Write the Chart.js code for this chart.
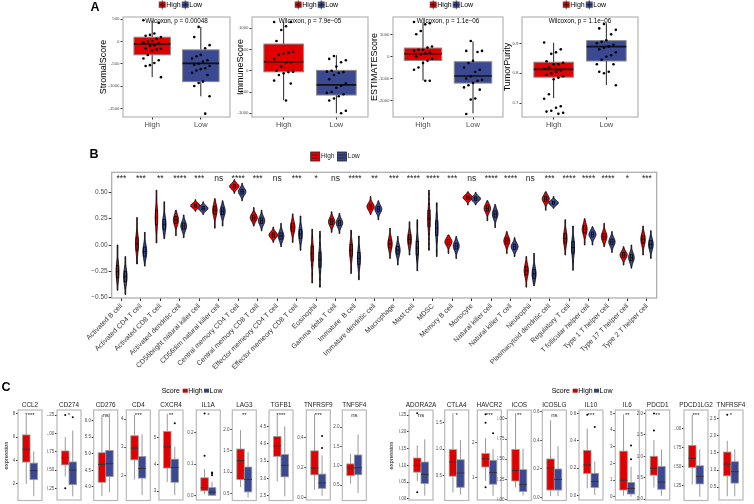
<!DOCTYPE html>
<html><head><meta charset="utf-8">
<script src="https://cdn.jsdelivr.net/npm/chart.js@4.4.1/dist/chart.umd.min.js"></script>
<style>
html,body{margin:0;padding:0;background:#fff;}
body{position:relative;width:754px;height:504px;overflow:hidden;}
canvas{position:absolute;left:0;top:0;}
</style></head><body>
<script>
// ======================= DATA =======================
const groups = ['High', 'Low'];

// ---- Panel A: score boxplots ----
const scoreNamesA = ['StromalScore', 'ImmuneScore', 'ESTIMATEScore', 'TumorPurity'];
const pLabelsA = ['Wilcoxon, p = 0.00048', 'Wilcoxon, p = 7.9e\u221205', 'Wilcoxon, p = 1.1e\u221206', 'Wilcoxon, p = 1.1e\u221206'];
const yTicksA = [
  ['-1500', '-1000', '-500', '0', '500'],
  ['-1000', '-500', '0', '500', '1000'],
  ['-2000', '-1000', '0', '1000'],
  ['0.7', '0.8', '0.9']
];
const yRangeA = [[-1695, 552], [-1087, 1266], [-2737, 1783], [0.654, 0.988]];
// [min, q1, median, q3, max]
const boxHighA = [[-800, -298, -52, 98, 470], [-690, -24, 212, 630, 1155], [-1086, -181, 122, 380, 1540], [0.717, 0.787, 0.813, 0.837, 0.902]];
const boxLowA = [[-1230, -900, -490, -186, 330], [-1000, -570, -330, 10, 370], [-2570, -1204, -887, -240, 680], [0.761, 0.841, 0.889, 0.909, 0.967]];
const ptsHighA = [
  [480, 420, 180, 150, 130, 100, 60, 20, 0, -20, -40, -80, -100, -150, -160, -180, -200, -300, -380, -420, -480, -530, -550, -800],
  [1150, 1150, 1050, 960, 700, 450, 430, 400, 380, 280, 200, 200, 100, 0, -20, -30, -60, -100, -230, -300, -700],
  [1560, 1500, 1450, 1150, 1000, 450, 400, 300, 300, 250, 200, 150, 100, 0, -100, -200, -300, -500, -600, -1100, -1100],
  [0.903, 0.88, 0.87, 0.865, 0.84, 0.835, 0.83, 0.83, 0.82, 0.815, 0.81, 0.805, 0.80, 0.795, 0.79, 0.785, 0.78, 0.73, 0.715, 0.69, 0.685, 0.675, 0.672, 0.668, 0.665]
];
const ptsLowA = [
  [330, 100, -80, -150, -300, -330, -380, -420, -450, -500, -520, -550, -600, -620, -650, -700, -750, -900, -930, -1000, -1230, -1620],
  [350, 280, 250, 200, 100, 0, -20, -30, -50, -100, -200, -300, -350, -400, -500, -520, -550, -600, -650, -700, -940, -1000],
  [700, 250, 250, 200, -200, -300, -500, -600, -700, -900, -1000, -1050, -1100, -1200, -1300, -1400, -1500, -1900, -1950, -2600],
  [0.965, 0.95, 0.945, 0.93, 0.91, 0.905, 0.9, 0.895, 0.89, 0.885, 0.88, 0.87, 0.86, 0.855, 0.845, 0.83, 0.83, 0.805, 0.80, 0.805, 0.76]
];

// ---- Panel B: immune cell violins ----
const cellTypes = ['Activated B cell', 'Activated CD4 T cell', 'Activated CD8 T cell', 'Activated dendritic cell',
  'CD56bright natural killer cell', 'CD56dim natural killer cell', 'Central memory CD4 T cell', 'Central memory CD8 T cell',
  'Effector memeory CD4 T cell', 'Effector memeory CD8 T cell', 'Eosinophil', 'Gamma delta T cell', 'Immature  B cell',
  'Immature dendritic cell', 'Macrophage', 'Mast cell', 'MDSC', 'Memory B cell', 'Monocyte', 'Natural killer cell',
  'Natural killer T cell', 'Neutrophil', 'Plasmacytoid dendritic cell', 'Regulatory T cell', 'T follicular helper cell',
  'Type 1 T helper cell', 'Type 17 T helper cell', 'Type 2 T helper cell'];
const sigB = ['***', '***', '**', '****', '***', 'ns', '****', '***', 'ns', '***', '*', 'ns', '****', '**', '***',
  '****', '****', '***', 'ns', '****', '****', 'ns', '***', '****', '****', '****', '*', '***'];
const yTicksB = ['\u22120.50', '\u22120.25', '0.00', '0.25', '0.50'];
// [lowest, median, highest]
const violinHighB = [[-0.43, -0.253, 0.0], [-0.18, 0.01, 0.26], [0.02, 0.26, 0.52], [0.09, 0.237, 0.33], [0.32, 0.373, 0.43],
  [0.16, 0.33, 0.44], [0.49, 0.557, 0.62], [0.18, 0.26, 0.355], [0.025, 0.095, 0.17], [0.025, 0.168, 0.295],
  [-0.36, -0.08, 0.15], [0.12, 0.22, 0.315], [-0.27, -0.05, 0.14], [0.29, 0.364, 0.46], [-0.127, 0.01, 0.16],
  [-0.095, 0.054, 0.22], [-0.05, 0.25, 0.52], [-0.08, 0.03, 0.095], [0.38, 0.45, 0.505], [0.23, 0.348, 0.42],
  [-0.08, 0.038, 0.127], [-0.40, -0.244, -0.11], [0.33, 0.437, 0.505], [-0.095, 0.063, 0.24], [0.0, 0.149, 0.25],
  [-0.016, 0.08, 0.205], [-0.19, -0.095, -0.016], [-0.095, 0.054, 0.18]];
const violinLowB = [[-0.47, -0.30, -0.11], [-0.20, -0.063, 0.12], [0.06, 0.196, 0.41], [0.07, 0.18, 0.285], [0.29, 0.348, 0.41],
  [0.18, 0.32, 0.42], [0.42, 0.506, 0.585], [0.135, 0.23, 0.33], [-0.015, 0.085, 0.205], [-0.05, 0.105, 0.275],
  [-0.40, -0.14, 0.13], [0.11, 0.21, 0.30], [-0.33, -0.127, 0.085], [0.24, 0.34, 0.42], [-0.19, -0.05, 0.08],
  [-0.245, -0.03, 0.24], [-0.11, 0.16, 0.40], [-0.127, -0.01, 0.08], [0.38, 0.44, 0.50], [0.165, 0.294, 0.385],
  [-0.11, -0.016, 0.07], [-0.386, -0.275, -0.08], [0.348, 0.40, 0.46], [-0.24, -0.022, 0.18], [0.0, 0.10, 0.174],
  [-0.07, 0.03, 0.127], [-0.22, -0.12, 0.0], [-0.127, 0.006, 0.136]];

// ---- Panel C: gene expression boxplots ----
const genesLeft = ['CCL2', 'CD274', 'CD276', 'CD4', 'CXCR4', 'IL1A', 'LAG3', 'TGFB1', 'TNFRSF9', 'TNFSF4'];
const sigLeft = ['****', '*', 'ns', '***', '**', '*', '**', '****', '***', 'ns'];
const ticksLeft = [['2', '4', '6', '8'], ['0.25', '0.50', '0.75', '1.00', '1.25'], ['4.0', '4.5', '5.0', '5.5', '6.0'], ['2', '3', '4'],
  ['3', '4', '5'], ['0.0', '0.1', '0.2'], ['0.5', '1.0', '1.5', '2.0'], ['2.5', '3.0', '3.5', '4.0', '4.5'], ['0.0', '0.2', '0.4'], ['0.5', '1.0', '1.5', '2.0']];
const rangeLeft = [[0.57, 8.34], [0.09, 1.32], [3.59, 6.32], [1.10, 4.33], [2.67, 6.02], [-0.013, 0.271], [0.34, 2.45], [2.37, 4.97], [-0.018, 0.583], [0.107, 2.44]];
const highLeft = [[2.0, 3.87, 4.98, 6.2, 7.9], [0.41, 0.57, 0.67, 0.76, 0.95], [3.72, 4.14, 4.68, 5.03, 6.17], [1.85, 2.55, 2.97, 3.41, 4.15],
  [3.34, 3.86, 4.65, 5.22, 5.88], [0.005, 0.016, 0.026, 0.057, 0.085], [0.65, 0.83, 1.27, 1.54, 1.98], [2.92, 3.64, 3.94, 4.21, 4.83],
  [0.05, 0.15, 0.195, 0.31, 0.556], [0.54, 0.75, 0.95, 1.05, 1.31]];
const lowLeft = [[0.93, 2.36, 3.13, 3.78, 4.78], [0.14, 0.30, 0.50, 0.61, 1.04], [3.84, 4.31, 4.70, 5.10, 6.22], [1.29, 1.90, 2.24, 2.67, 3.47],
  [2.85, 3.33, 3.88, 4.19, 4.65], [0.0, 0.002, 0.012, 0.026, 0.045], [0.41, 0.54, 0.83, 1.12, 1.47], [2.49, 3.05, 3.38, 3.69, 4.5],
  [0.01, 0.06, 0.096, 0.155, 0.28], [0.30, 0.77, 0.95, 1.28, 1.81]];
const outHighLeft = [[], [1.25, 0.25], [], [], [], [0.26, 0.127], [], [], [], []];
const outLowLeft = [[], [1.22], [], [], [5.53], [0.065, 0.07, 0.074], [], [], [0.41, 0.33], []];

const genesRight = ['ADORA2A', 'CTLA4', 'HAVCR2', 'ICOS', 'ICOSLG', 'IL10', 'IL6', 'PDCD1', 'PDCD1LG2', 'TNFRSF4'];
const sigRight = ['ns', '*', '***', '**', 'ns', '***', '**', '**', '***', '*'];
const ticksRight = [['0.00', '0.05', '0.10', '0.15', '0.20', '0.25'], ['0.5', '1.0', '1.5'], ['1', '2'], ['0.00', '0.25', '0.50', '0.75', '1.00'],
  ['0.0', '0.2', '0.4', '0.6'], ['0.0', '0.2', '0.4', '0.6'], ['0', '1', '2', '3', '4', '5'], ['0.0', '0.5', '1.0', '1.5', '2.0'],
  ['0.25', '0.50', '0.75', '1.00'], ['0.5', '1.0', '1.5', '2.0', '2.5']];
const rangeRight = [[-0.003, 0.265], [0.03, 1.74], [0.36, 2.92], [-0.012, 1.11], [-0.02, 0.612], [-0.031, 0.624], [-0.2, 5.2], [-0.02, 2.08], [0.05, 1.25], [0.13, 2.74]];
const highRight = [[0.053, 0.08, 0.10, 0.122, 0.16], [0.18, 0.49, 0.76, 0.99, 1.68], [0.90, 1.30, 1.53, 1.68, 2.12], [0.15, 0.23, 0.36, 0.62, 1.07],
  [0.01, 0.053, 0.208, 0.27, 0.54], [0.053, 0.163, 0.224, 0.33, 0.49], [0.06, 0.40, 0.99, 2.73, 4.94], [0.27, 0.56, 0.72, 1.0, 1.38],
  [0.26, 0.49, 0.61, 0.78, 1.19], [0.24, 0.83, 1.17, 1.52, 1.85]];
const lowRight = [[0.01, 0.046, 0.073, 0.11, 0.178], [0.14, 0.28, 0.55, 0.80, 1.17], [0.48, 0.81, 1.14, 1.49, 1.81], [0.05, 0.10, 0.185, 0.37, 0.63],
  [0.01, 0.053, 0.127, 0.20, 0.36], [0.005, 0.06, 0.103, 0.163, 0.25], [0.0, 0.16, 0.49, 0.85, 1.8], [0.08, 0.23, 0.40, 0.76, 1.16],
  [0.10, 0.27, 0.37, 0.51, 0.73], [0.24, 0.62, 0.95, 1.24, 1.6]];
const outHighRight = [[0.255, 0.02], [], [2.8, 2.56, 0.72], [], [], [0.59], [], [2.0, 1.6], [], [2.6]];
const outLowRight = [[], [], [2.26], [], [], [0.50], [3.07, 2.25], [], [], []];

// ======================= RENDERING =======================
const W = 754, H = 504;
const FONT = '"Liberation Sans", Arial, Helvetica, sans-serif';
const RED = '#E00000', BLUE = '#3B4992';
Chart.defaults.font.family = FONT;

function newCtx() {
  const c = document.createElement('canvas');
  c.width = W; c.height = H;
  c.style.width = W + 'px'; c.style.height = H + 'px';
  document.body.appendChild(c);
  return c.getContext('2d');
}
function txt(ctx, s, x, y, o) {
  o = o || {};
  ctx.save();
  ctx.font = (o.bold ? 'bold ' : '') + (o.size || 8) + 'px ' + FONT;
  ctx.fillStyle = o.color || '#000';
  ctx.textAlign = o.align || 'center';
  ctx.textBaseline = o.base || 'middle';
  ctx.translate(x, y);
  if (o.rot) ctx.rotate(o.rot);
  ctx.fillText(s, 0, 0);
  ctx.restore();
}
const num = s => parseFloat(String(s).replace('\u2212', '-'));

function makeChart(cfg) {
  const ctx = newCtx();
  const [l, t, r, b] = cfg.rect;
  const yVals = cfg.yTicks.map(num);
  const xVals = cfg.xTickVals || [];
  const xH = cfg.xH || 0;
  return new Chart(ctx, {
    type: 'scatter',
    data: { datasets: cfg.datasets || [] },
    options: {
      responsive: false, animation: false, events: [], devicePixelRatio: 1,
      layout: { padding: { left: l - cfg.yW, top: t, right: W - r, bottom: H - b - xH } },
      plugins: { legend: { display: false }, tooltip: { enabled: false } },
      scales: {
        x: {
          type: 'linear', min: cfg.xMin, max: cfg.xMax, display: xH > 0,
          afterFit: s => { s.height = xH; },
          afterBuildTicks: s => { s.ticks = xVals.map(v => ({ value: v })); },
          ticks: {
            autoSkip: false, maxRotation: cfg.xRot || 0, minRotation: cfg.xRot || 0,
            padding: cfg.xPad == null ? 1 : cfg.xPad,
            font: { size: cfg.xFont || 7.5, family: FONT }, color: cfg.xColor || '#4d4d4d',
            callback: (v, i) => (cfg.xLabels || [])[i] || ''
          },
          grid: { drawOnChartArea: false, drawTicks: true, tickLength: cfg.tickLen || 3, color: '#333', lineWidth: 1 },
          border: { display: false }
        },
        y: {
          type: 'linear', min: cfg.yMin, max: cfg.yMax,
          afterFit: s => { s.width = cfg.yW; },
          afterBuildTicks: s => { s.ticks = yVals.map(v => ({ value: v })); },
          ticks: {
            autoSkip: false, padding: cfg.yPad == null ? 1 : cfg.yPad,
            font: { size: cfg.yFont || 5, family: FONT }, color: cfg.yColor || '#4d4d4d',
            callback: (v, i) => cfg.yTicks[i]
          },
          grid: { drawOnChartArea: false, drawTicks: true, tickLength: cfg.tickLen || 3, color: '#333', lineWidth: 1 },
          border: { display: false }
        }
      }
    },
    plugins: [{
      id: 'custom',
      beforeDatasetsDraw(ch) {
        if (cfg.before) { const c = ch.ctx; c.save(); cfg.before(c, ch.scales.x, ch.scales.y, ch.chartArea); c.restore(); }
      },
      afterDraw(ch) {
        const c = ch.ctx, a = ch.chartArea;
        c.save();
        c.strokeStyle = cfg.borderColor || '#b3b3b3';
        c.lineWidth = cfg.borderW || 1.2;
        c.strokeRect(a.left, a.top, a.right - a.left, a.bottom - a.top);
        c.restore();
        if (cfg.extra) { c.save(); cfg.extra(c, ch.scales.x, ch.scales.y, a); c.restore(); }
      }
    }]
  });
}

function drawBox(c, xs, ys, xc, half, st, o) {
  const [mn, q1, md, q3, mx] = st;
  const X = v => xs.getPixelForValue(v), Y = v => ys.getPixelForValue(v);
  const xm = X(xc), x0 = X(xc - half), x1 = X(xc + half);
  c.strokeStyle = o.whisker; c.lineWidth = o.whiskerW || 1;
  c.beginPath();
  c.moveTo(xm, Y(mx)); c.lineTo(xm, Y(q3));
  c.moveTo(xm, Y(q1)); c.lineTo(xm, Y(mn));
  c.stroke();
  c.fillStyle = o.fill;
  c.fillRect(x0, Y(q3), x1 - x0, Y(q1) - Y(q3));
  c.strokeStyle = o.edge; c.lineWidth = o.edgeW || 1;
  c.strokeRect(x0, Y(q3), x1 - x0, Y(q1) - Y(q3));
  c.strokeStyle = o.median; c.lineWidth = o.medianW || 1.5;
  c.beginPath(); c.moveTo(x0, Y(md)); c.lineTo(x1, Y(md)); c.stroke();
}

// ----- Panel A -----
const rectsA = [[123, 17, 230, 117], [252, 17, 368, 117], [393, 17, 503, 117], [522, 17, 638, 117]];
const yTitleXA = [103.5, 240.5, 374.5, 507.5];
const legendXA = [159, 295, 430, 563];
const jit = i => (((i * 7) % 9) - 4) * 0.045;

scoreNamesA.forEach((name, k) => {
  const rect = rectsA[k];
  makeChart({
    rect, yW: 20, xH: 14, xMin: 0.4, xMax: 2.6, xTickVals: [1, 2], xLabels: groups, xFont: 7.5, xPad: 1,
    yMin: yRangeA[k][0], yMax: yRangeA[k][1], yTicks: yTicksA[k], yFont: 4.3, tickLen: 2.5,
    datasets: [
      { data: ptsHighA[k].map((v, i) => ({ x: 1 + jit(i), y: v })), pointRadius: 1.3, backgroundColor: '#000', borderWidth: 0 },
      { data: ptsLowA[k].map((v, i) => ({ x: 2 + jit(i + 3), y: v })), pointRadius: 1.3, backgroundColor: '#000', borderWidth: 0 }
    ],
    before: (c, xs, ys) => {
      drawBox(c, xs, ys, 1, 0.375, boxHighA[k], { fill: RED, edge: '#8a8a8a', whisker: '#222', median: '#111', medianW: 1.6 });
      drawBox(c, xs, ys, 2, 0.375, boxLowA[k], { fill: BLUE, edge: '#8a8a8a', whisker: '#222', median: '#111', medianW: 1.6 });
    },
    borderColor: '#b5b5b5',
    extra: (c, xs, ys, a) => {
      txt(c, pLabelsA[k], (a.left + a.right) / 2, 21, { size: 6.3 });
      txt(c, name, yTitleXA[k], (a.top + a.bottom) / 2, { size: 9, rot: -Math.PI / 2 });
      // legend
      const lx = legendXA[k], ly = 4.8;
      [[RED, 'High', 0], [BLUE, 'Low', 23]].forEach(([col, lab, dx]) => {
        const x0 = lx + dx;
        c.fillStyle = col; c.fillRect(x0, ly - 3, 6.5, 6);
        c.strokeStyle = '#777'; c.lineWidth = 0.6; c.strokeRect(x0, ly - 3, 6.5, 6);
        c.strokeStyle = '#111'; c.lineWidth = 0.7;
        c.beginPath(); c.moveTo(x0 + 3.25, ly - 4.5); c.lineTo(x0 + 3.25, ly + 4.5);
        c.moveTo(x0, ly); c.lineTo(x0 + 6.5, ly); c.stroke();
        txt(c, lab, x0 + 7.3, ly, { size: 7, align: 'left' });
      });
    }
  });
});

// ----- Panel B -----
function drawViolin(c, xs, ys, xc, st, fill) {
  const [lo, md, hi] = st;
  const s = (hi - lo) / 5;
  const sPx = Math.abs(ys.getPixelForValue(0) - ys.getPixelForValue(s));
  const peak = Math.min(4.8, 13 / sPx);
  const x = xs.getPixelForValue(xc);
  const N = 48, right = [], left = [];
  for (let k = 0; k <= N; k++) {
    const v = lo + (hi - lo) * k / N;
    const hw = Math.max(0.35, peak * Math.exp(-0.5 * Math.pow((v - md) / s, 2)));
    const y = ys.getPixelForValue(v);
    right.push([x + hw, y]); left.push([x - hw, y]);
  }
  c.beginPath();
  right.forEach((p, i) => i ? c.lineTo(p[0], p[1]) : c.moveTo(p[0], p[1]));
  left.reverse().forEach(p => c.lineTo(p[0], p[1]));
  c.closePath();
  c.fillStyle = fill; c.fill();
  c.strokeStyle = '#000'; c.lineWidth = 0.9; c.stroke();
  // inner boxplot
  const qa = ys.getPixelForValue(md + 0.674 * s), qb = ys.getPixelForValue(md - 0.674 * s);
  c.strokeStyle = '#000'; c.lineWidth = 0.7;
  c.strokeRect(x - 1.1, qa, 2.2, qb - qa);
  c.beginPath(); c.moveTo(x - 1.6, ys.getPixelForValue(md)); c.lineTo(x + 1.6, ys.getPixelForValue(md)); c.stroke();
}

makeChart({
  rect: [111.7, 172.3, 656.7, 298], yW: 30, xH: 80, xMin: 0.5, xMax: 28.5,
  xTickVals: cellTypes.map((_, i) => i + 1), xLabels: cellTypes, xRot: 45, xFont: 7, xColor: '#333', xPad: 1,
  yMin: -0.503, yMax: 0.69, yTicks: yTicksB, yFont: 6.5, tickLen: 3,
  before: (c, xs, ys) => {
    cellTypes.forEach((_, i) => {
      drawViolin(c, xs, ys, i + 1 - 0.2, violinHighB[i], '#EE0000');
      drawViolin(c, xs, ys, i + 1 + 0.2, violinLowB[i], BLUE);
    });
  },
  borderColor: '#a8a8a8',
  extra: (c, xs, ys, a) => {
    sigB.forEach((s, i) => txt(c, s, xs.getPixelForValue(i + 1), 181, { size: 8.5, base: 'alphabetic', color: '#222' }));
  }
});

// ----- Panel C -----
const centersLeft = [30, 69, 105.7, 138.3, 171, 208.3, 244.3, 281, 318.3, 354.3];
const centersRight = [421, 456.7, 489.3, 519.3, 554.3, 591, 627.3, 657.7, 696, 731];
function panelC(genes, centers, hi, lo, oh, ol, ticks, ranges, sig) {
  genes.forEach((g, i) => {
    const cx = centers[i];
    makeChart({
      rect: [cx - 12, 410, cx + 12, 501], yW: 10, xH: 0, xMin: 0.4, xMax: 1.6,
      yMin: ranges[i][0], yMax: ranges[i][1], yTicks: ticks[i], yFont: 4.5, tickLen: 2, yPad: 0.8,
      datasets: [
        { data: oh[i].map(v => ({ x: 0.8125, y: v })), pointRadius: 1, backgroundColor: '#000', borderWidth: 0 },
        { data: ol[i].map(v => ({ x: 1.1875, y: v })), pointRadius: 1, backgroundColor: '#000', borderWidth: 0 }
      ],
      before: (c, xs, ys) => {
        drawBox(c, xs, ys, 0.8125, 0.1875, hi[i], { fill: RED, edge: '#9a9a9a', whisker: '#9a9a9a', median: '#333', medianW: 1, edgeW: 0.8 });
        drawBox(c, xs, ys, 1.1875, 0.1875, lo[i], { fill: BLUE, edge: '#9a9a9a', whisker: '#9a9a9a', median: '#333', medianW: 1, edgeW: 0.8 });
      },
      borderColor: '#b8b8b8',
      extra: (c, xs, ys, a) => {
        txt(c, g, cx, 405, { size: 6.4, color: '#1a1a1a' });
        txt(c, sig[i], cx, 417, { size: 6, base: 'alphabetic', color: '#222' });
      }
    });
  });
}
panelC(genesLeft, centersLeft, highLeft, lowLeft, outHighLeft, outLowLeft, ticksLeft, rangeLeft, sigLeft);
panelC(genesRight, centersRight, highRight, lowRight, outHighRight, outLowRight, ticksRight, rangeRight, sigRight);

// ----- Global labels / legends -----
(function () {
  const c = newCtx();
  txt(c, 'A', 95, 7.5, { size: 12.5, bold: true });
  txt(c, 'B', 94, 155, { size: 12.5, bold: true });
  txt(c, 'C', 6, 387.5, { size: 12.5, bold: true });
  // legend B
  const ly = 156.5;
  [[ '#EE0000', 'High', 310.7], [BLUE, 'Low', 337.5]].forEach(([col, lab, x0]) => {
    c.fillStyle = col; c.fillRect(x0, ly - 4.5, 9, 9);
    c.strokeStyle = '#222'; c.lineWidth = 0.8; c.strokeRect(x0, ly - 4.5, 9, 9);
    c.beginPath(); c.moveTo(x0 + 1, ly - 1.5); c.lineTo(x0 + 8, ly - 1.5);
    c.moveTo(x0 + 1, ly + 1.5); c.lineTo(x0 + 8, ly + 1.5); c.stroke();
    txt(c, lab, x0 + 10.3, ly, { size: 6.5, align: 'left', color: '#222' });
  });
  // legends C
  [[161.7], [551.7]].forEach(([sx]) => {
    const y = 390.7;
    txt(c, 'Score', sx, y, { size: 7, align: 'left' });
    [[RED, 'High', sx + 21], [BLUE, 'Low', sx + 42.3]].forEach(([col, lab, x0]) => {
      c.fillStyle = col; c.fillRect(x0, y - 2, 5, 4);
      c.strokeStyle = '#333'; c.lineWidth = 0.6;
      c.beginPath(); c.moveTo(x0, y); c.lineTo(x0 + 5, y); c.stroke();
      txt(c, lab, x0 + 5.6, y, { size: 7, align: 'left' });
    });
  });
  txt(c, 'expression', 6, 455.5, { size: 5.8, rot: -Math.PI / 2 });
  txt(c, 'expression', 391.7, 455.5, { size: 5.8, rot: -Math.PI / 2 });
})();
</script>
</body></html>
